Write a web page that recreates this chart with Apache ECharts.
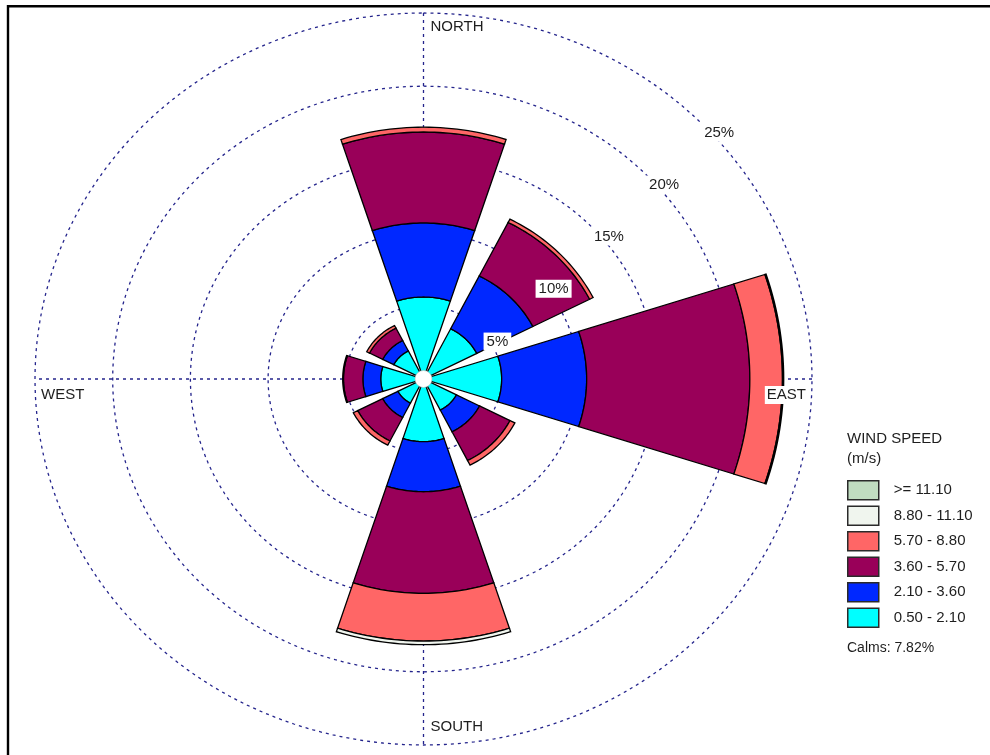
<!DOCTYPE html>
<html><head><meta charset="utf-8">
<script src="https://cdn.jsdelivr.net/npm/echarts@6/dist/echarts.min.js"></script>
<style>html,body{margin:0;padding:0;background:#fff}#chart{width:990px;height:755px}</style>
</head><body><div id="chart"></div>
<script>
// ---- data ----
const directions = ['N', 'NE', 'E', 'SE', 'S', 'SW', 'W', 'NW'];
const speedClasses = ['0.50 - 2.10', '2.10 - 3.60', '3.60 - 5.70', '5.70 - 8.80', '8.80 - 11.10', '>= 11.10'];
const speed_0_50_2_10  = [5.60, 3.85, 5.03, 2.38, 4.28, 1.85, 2.75, 2.15];
const speed_2_10_3_60  = [5.06, 4.05, 5.47, 1.67, 3.42, 1.10, 1.15, 0.80];
const speed_3_60_5_70  = [6.21, 4.10, 10.50, 2.20, 6.94, 1.80, 1.25, 0.95];
const speed_5_70_8_80  = [0.33, 0.25, 2.10, 0.35, 3.26, 0.32, 0.05, 0.20];
const speed_8_80_11_10 = [0.00, 0.00, 0.08, 0.00, 0.25, 0.00, 0.00, 0.00];
const speed_ge_11_10   = [0, 0, 0, 0, 0, 0, 0, 0];
const ringValues = [5, 10, 15, 20, 25];
const ringLabels = ['5%', '10%', '15%', '20%', '25%'];
const compassLabels = ['NORTH', 'EAST', 'SOUTH', 'WEST'];
const compassAngles = [0, 90, 180, 270];
const legendTitle = 'WIND SPEED\n(m/s)';
const calmsText = 'Calms: 7.82%';

// ---- styles ----
const classColors = ['#00FFFF', '#0028FF', '#990059', '#FF6666', '#F0F5EE', '#C0DCC0'];
const gridColor = '#24248C';
const textColor = '#1e1e1e';
const FAMILY = '"Liberation Sans", Arial, sans-serif';
const FONT = '15px ' + FAMILY;
const MAXR = 25;
const HALF_WIDTH = 18;

const classValues = [speed_0_50_2_10, speed_2_10_3_60, speed_3_60_5_70, speed_5_70_8_80, speed_8_80_11_10, speed_ge_11_10];

function polar(api, r, deg) {
  const a = deg * Math.PI / 180;
  return api.coord([r * Math.sin(a), r * Math.cos(a)]);
}

function sectorItem(params, api) {
  const dir = api.value(0), base = api.value(1), val = api.value(2);
  if (!(val > 0)) return null;
  const c = dir * 45, n = 30, pts = [];
  for (let i = 0; i <= n; i++) pts.push(polar(api, base + val, c - HALF_WIDTH + 2 * HALF_WIDTH * i / n));
  for (let i = n; i >= 0; i--) pts.push(polar(api, base, c - HALF_WIDTH + 2 * HALF_WIDTH * i / n));
  return { type: 'polygon', shape: { points: pts }, style: { fill: api.visual('color'), stroke: '#000', lineWidth: 1.3 } };
}

// cumulative bases
const cum = directions.map(() => 0);
const barSeries = classValues.map((vals, k) => {
  const data = vals.map((v, d) => { const row = [d, cum[d], v]; cum[d] += v; return row; });
  return {
    type: 'custom', name: speedClasses[k], coordinateSystem: 'cartesian2d', z: 3,
    itemStyle: { color: classColors[k] },
    renderItem: sectorItem, data: data, silent: true
  };
});

const ringSeries = {
  type: 'custom', coordinateSystem: 'cartesian2d', z: 1, silent: true,
  data: ringValues.map(v => [v]),
  renderItem: function (params, api) {
    const r = api.value(0), pts = [];
    for (let i = 0; i <= 240; i++) pts.push(polar(api, r, i * 360 / 240));
    return { type: 'polyline', shape: { points: pts }, style: { stroke: gridColor, lineWidth: 1.3, lineDash: [3, 4], fill: null } };
  }
};

const axisSeries = {
  type: 'custom', coordinateSystem: 'cartesian2d', z: 1, silent: true,
  data: [[0], [90]],
  renderItem: function (params, api) {
    const d = api.value(0);
    const p1 = polar(api, MAXR, d), p2 = polar(api, MAXR, d + 180);
    return { type: 'line', shape: { x1: p1[0], y1: p1[1], x2: p2[0], y2: p2[1] }, style: { stroke: gridColor, lineWidth: 1.3, lineDash: [3, 4] } };
  }
};

const centerSeries = {
  type: 'custom', coordinateSystem: 'cartesian2d', z: 4, silent: true,
  data: [[0, 0]],
  renderItem: function (params, api) {
    const p = api.coord([0, 0]);
    return { type: 'circle', shape: { cx: p[0], cy: p[1], r: 8.5 }, style: { fill: '#fff', stroke: '#bbb', lineWidth: 0.6 } };
  }
};

// ring labels placed where each ring meets a diagonal guide line
const ringLabelSeries = {
  type: 'custom', coordinateSystem: 'cartesian2d', z: 5, silent: true,
  data: ringValues.map((v, i) => [v, i]),
  renderItem: function (params, api) {
    const v = api.value(0), idx = api.value(1);
    const off = 2.2, rr = v + 0.4;
    const x = (off + Math.sqrt(2 * rr * rr - off * off)) / 2, y = x - off;
    const p = api.coord([x, y]);
    return { type: 'text', x: p[0], y: p[1], style: { text: ringLabels[idx], font: FONT, fill: textColor, align: 'center', verticalAlign: 'middle', backgroundColor: '#fff', padding: [2, 3, 1, 3] } };
  }
};

const compassOffsets = [
  { dx: 5, dy: 14, align: 'left' },
  { dx: -4, dy: 16, align: 'right' },
  { dx: 5, dy: -18, align: 'left' },
  { dx: 4, dy: 16, align: 'left' }
];
const compassSeries = {
  type: 'custom', coordinateSystem: 'cartesian2d', z: 5, silent: true,
  data: compassAngles.map((a, i) => [a, i]),
  renderItem: function (params, api) {
    const a = api.value(0), i = api.value(1);
    const p = polar(api, MAXR, a), o = compassOffsets[i];
    return { type: 'text', x: p[0] + o.dx, y: p[1] + o.dy, style: { text: compassLabels[i], font: FONT, fill: textColor, align: o.align, verticalAlign: 'middle', backgroundColor: '#fff', padding: [2, 2, 1, 2] } };
  }
};

const chart = echarts.init(document.getElementById('chart'), null, { renderer: 'canvas' });
chart.setOption({
  animation: false,
  backgroundColor: '#fff',
  grid: { left: 35, right: 178, top: 13, bottom: 10, containLabel: false },
  xAxis: { type: 'value', min: -MAXR, max: MAXR, show: false },
  yAxis: { type: 'value', min: -MAXR, max: MAXR, show: false },
  title: [
    { text: legendTitle, left: 847, top: 429, padding: 0, textStyle: { fontSize: 15, fontWeight: 'normal', color: textColor, fontFamily: FAMILY, lineHeight: 20 } },
    { text: calmsText, left: 847, top: 641, padding: 0, textStyle: { fontSize: 14, fontWeight: 'normal', color: textColor, fontFamily: FAMILY } }
  ],
  legend: {
    orient: 'vertical', left: 847, top: 480, icon: 'rect', padding: 0,
    itemWidth: 31, itemHeight: 19, itemGap: 5,
    data: speedClasses.slice().reverse(),
    itemStyle: { borderColor: '#2a2a2a', borderWidth: 1.5 },
    textStyle: { fontSize: 15, color: textColor, fontFamily: FAMILY, padding: [0, 0, 0, 10] },
    selectedMode: false
  },
  graphic: [
    { type: 'polyline', shape: { points: [[8, 760], [8, 6.2], [995, 6.2]] }, style: { stroke: '#000', lineWidth: 2.4, fill: null }, silent: true }
  ],
  series: [ringSeries, axisSeries].concat(barSeries, [centerSeries, ringLabelSeries, compassSeries])
});
</script>
</body></html>
